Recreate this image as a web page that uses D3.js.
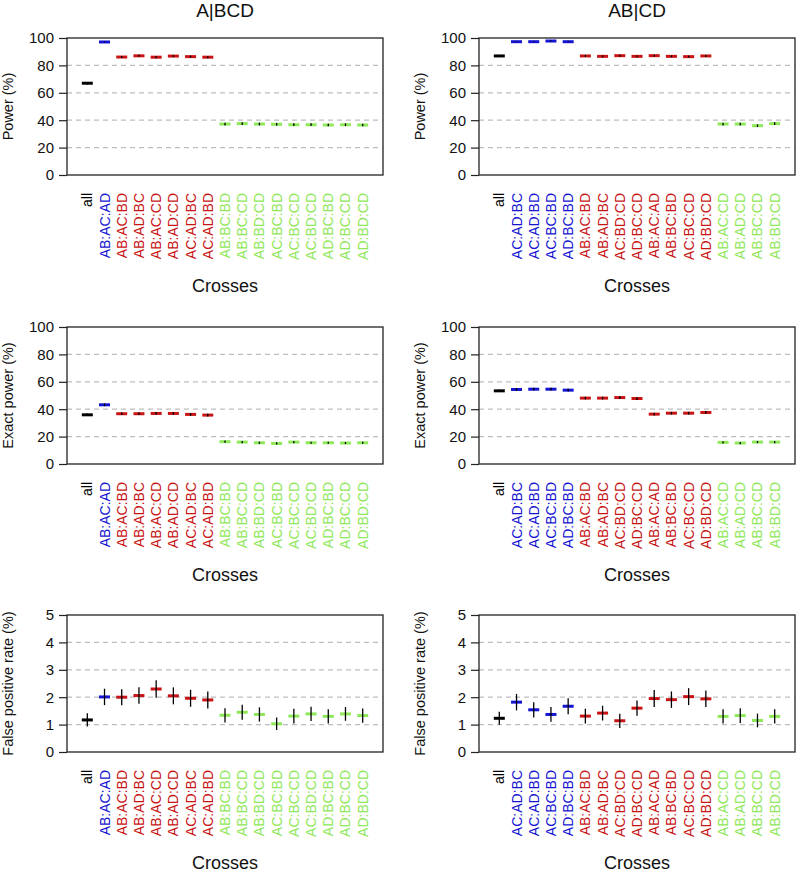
<!DOCTYPE html>
<html>
<head>
<meta charset="utf-8">
<script src="https://cdn.jsdelivr.net/npm/d3@7"></script>
<style>
  body { margin: 0; background: #fff; }
  svg { display: block; }
</style>
</head>
<body>
<div id="vis"></div>
<script>
// crosses per split, colour group per cross (0 = all, 1 = blue, 2 = red, 3 = green)
var crossesABCD = ["all", "AB:AC:AD", "AB:AC:BD", "AB:AD:BC", "AB:AC:CD", "AB:AD:CD", "AC:AD:BC", "AC:AD:BD",
  "AB:BC:BD", "AB:BC:CD", "AB:BD:CD", "AC:BC:BD", "AC:BC:CD", "AC:BD:CD", "AD:BC:BD", "AD:BC:CD", "AD:BD:CD"];
var groupsABCD = [0, 1, 2, 2, 2, 2, 2, 2, 3, 3, 3, 3, 3, 3, 3, 3, 3];
var crossesABCD2 = ["all", "AC:AD:BC", "AC:AD:BD", "AC:BC:BD", "AD:BC:BD", "AB:AC:BD", "AB:AD:BC", "AC:BD:CD",
  "AD:BC:CD", "AB:AC:AD", "AB:BC:BD", "AC:BC:CD", "AD:BD:CD", "AB:AC:CD", "AB:AD:CD", "AB:BC:CD", "AB:BD:CD"];
var groupsABCD2 = [0, 1, 1, 1, 1, 2, 2, 2, 2, 2, 2, 2, 2, 3, 3, 3, 3];

// power (%)
var powerLeft = [67, 97.1, 86.1, 87.0, 86.0, 86.8, 86.4, 86.0, 37.2, 37.5, 37.2, 37.0, 36.7, 36.7, 36.5, 36.7, 36.5];
var powerLeftErr = [0.9, 0.3, 0.7, 0.7, 0.7, 0.7, 0.7, 0.7, 1.0, 1.0, 1.0, 1.0, 1.0, 1.0, 1.0, 1.0, 1.0];
var powerRight = [86.9, 97.3, 97.3, 97.8, 97.3, 86.9, 86.6, 87.1, 86.6, 87.1, 86.6, 86.4, 86.9, 37.2, 37.2, 36.0, 37.5];
var powerRightErr = [0.7, 0.3, 0.3, 0.3, 0.3, 0.7, 0.7, 0.7, 0.7, 0.7, 0.7, 0.7, 0.7, 1.0, 1.0, 1.0, 1.0];

// exact power (%)
var exactLeft = [35.9, 43.2, 36.7, 36.7, 36.9, 36.9, 36.2, 35.7, 16.3, 16.0, 15.5, 15.0, 16.0, 15.5, 15.5, 15.3, 15.5];
var exactLeftErr = [0.9, 1.0, 1.0, 1.0, 1.0, 1.0, 1.0, 1.0, 0.8, 0.8, 0.8, 0.8, 0.8, 0.8, 0.8, 0.8, 0.8];
var exactRight = [53.4, 54.4, 54.6, 54.6, 53.9, 48.1, 48.1, 48.5, 47.8, 36.4, 37.1, 37.1, 37.6, 15.8, 15.3, 16.0, 16.0];
var exactRightErr = [0.9, 1.0, 1.0, 1.0, 1.0, 1.0, 1.0, 1.0, 1.0, 1.0, 1.0, 1.0, 1.0, 0.8, 0.8, 0.8, 0.8];

// false positive rate (%)
var fprLeft = [1.17, 2.01, 2.00, 2.06, 2.30, 2.05, 1.96, 1.90, 1.34, 1.45, 1.37, 1.03, 1.31, 1.39, 1.30, 1.39, 1.33];
var fprLeftErr = [0.24, 0.30, 0.29, 0.30, 0.32, 0.31, 0.31, 0.31, 0.26, 0.27, 0.26, 0.23, 0.27, 0.26, 0.26, 0.25, 0.26];
var fprRight = [1.23, 1.82, 1.54, 1.37, 1.67, 1.31, 1.42, 1.14, 1.60, 1.95, 1.91, 2.02, 1.94, 1.30, 1.33, 1.15, 1.30];
var fprRightErr = [0.24, 0.30, 0.28, 0.27, 0.29, 0.27, 0.27, 0.26, 0.28, 0.31, 0.30, 0.31, 0.30, 0.26, 0.27, 0.25, 0.26];

var titles = ["A|BCD", "AB|CD"];
var yLabels = ["Power (%)", "Exact power (%)", "False positive rate (%)"];
var yTicksPct = [0, 20, 40, 60, 80, 100];
var yTicksFpr = [0, 1, 2, 3, 4, 5];
var groupColors = ["#000000", "#1414d2", "#c81414", "#8fe85a"];

var font = '"Liberation Sans", Arial, Helvetica, sans-serif';
var W = 797, H = 872;

var svg = d3.select("#vis").append("svg")
  .attr("width", W).attr("height", H)
  .style("font-family", font);

var colLeft = [67, 479];
var boxW = 316;
var rowTop = [38, 327, 615];
var boxH = 137;

var panels = [
  { row: 0, col: 0, cats: crossesABCD, groups: groupsABCD, vals: powerLeft, err: powerLeftErr, max: 100, ticks: yTicksPct },
  { row: 0, col: 1, cats: crossesABCD2, groups: groupsABCD2, vals: powerRight, err: powerRightErr, max: 100, ticks: yTicksPct },
  { row: 1, col: 0, cats: crossesABCD, groups: groupsABCD, vals: exactLeft, err: exactLeftErr, max: 100, ticks: yTicksPct },
  { row: 1, col: 1, cats: crossesABCD2, groups: groupsABCD2, vals: exactRight, err: exactRightErr, max: 100, ticks: yTicksPct },
  { row: 2, col: 0, cats: crossesABCD, groups: groupsABCD, vals: fprLeft, err: fprLeftErr, max: 5, ticks: yTicksFpr },
  { row: 2, col: 1, cats: crossesABCD2, groups: groupsABCD2, vals: fprRight, err: fprRightErr, max: 5, ticks: yTicksFpr }
];

panels.forEach(function (p) {
  var x0 = colLeft[p.col], y0 = rowTop[p.row];
  var g = svg.append("g").attr("transform", "translate(" + x0 + "," + y0 + ")");

  var n = p.cats.length;
  var x = d3.scaleLinear().domain([-1.18, n - 1 + 1.18]).range([0, boxW]);
  var y = d3.scaleLinear().domain([0, p.max]).range([boxH, 0]);

  // dashed grid
  g.selectAll("line.grid")
    .data(p.ticks.filter(function (t) { return t > 0 && t < p.max; }))
    .enter().append("line")
    .attr("x1", 0).attr("x2", boxW)
    .attr("y1", function (d) { return y(d); }).attr("y2", function (d) { return y(d); })
    .attr("stroke", "#bdbdbd").attr("stroke-width", 1.2)
    .attr("stroke-dasharray", "5,4");

  // y axis
  var yAxis = d3.axisLeft(y).tickValues(p.ticks).tickSize(8).tickPadding(5).tickFormat(d3.format("d"));
  var ax = g.append("g").call(yAxis);
  ax.select(".domain").remove();
  ax.selectAll(".tick line").attr("stroke", "#222").attr("stroke-width", 1.2);
  ax.selectAll(".tick text").style("font-size", "15px").style("font-family", font).attr("fill", "#111");

  // box
  g.append("rect").attr("x", 0).attr("y", 0).attr("width", boxW).attr("height", boxH)
    .attr("fill", "none").attr("stroke", "#222").attr("stroke-width", 1.3);

  // estimate marks
  g.selectAll("line.est").data(p.vals).enter().append("line")
    .attr("x1", function (d, i) { return x(i) - 5.5; })
    .attr("x2", function (d, i) { return x(i) + 5.5; })
    .attr("y1", function (d) { return y(d); }).attr("y2", function (d) { return y(d); })
    .attr("stroke", function (d, i) { return groupColors[p.groups[i]]; })
    .attr("stroke-width", 3);

  // interval lines
  g.selectAll("line.ci").data(p.vals).enter().append("line")
    .attr("x1", function (d, i) { return x(i); })
    .attr("x2", function (d, i) { return x(i); })
    .attr("y1", function (d, i) { return y(d - p.err[i]); })
    .attr("y2", function (d, i) { return y(d + p.err[i]); })
    .attr("stroke", "#000").attr("stroke-width", 1.3);

  // category labels
  g.selectAll("text.cat").data(p.cats).enter().append("text")
    .attr("transform", function (d, i) { return "translate(" + (x(i) + 5) + "," + (boxH + 18) + ") rotate(-90)"; })
    .attr("text-anchor", "end")
    .style("font-size", "14px")
    .attr("fill", function (d, i) { return groupColors[p.groups[i]]; })
    .text(function (d) { return d; });

  // axis titles
  g.append("text")
    .attr("x", boxW / 2).attr("y", boxH + 117)
    .attr("text-anchor", "middle").style("font-size", "18px").attr("fill", "#111")
    .text("Crosses");
  g.append("text")
    .attr("transform", "translate(" + (-54) + "," + (boxH / 2) + ") rotate(-90)")
    .attr("text-anchor", "middle").style("font-size", "14.5px").attr("fill", "#111")
    .text(yLabels[p.row]);

  if (p.row === 0) {
    g.append("text")
      .attr("x", boxW / 2).attr("y", -21)
      .attr("text-anchor", "middle").style("font-size", "19px").attr("fill", "#111")
      .text(titles[p.col]);
  }
});
</script>
</body>
</html>
